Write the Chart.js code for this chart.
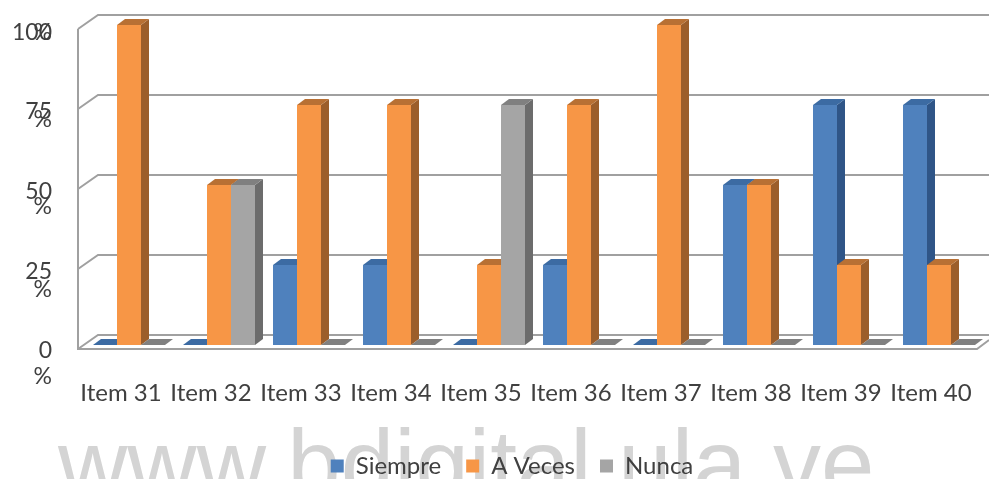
<!DOCTYPE html>
<html lang="en">
<head>
  <meta charset="UTF-8" />
  <title>Items 31-40</title>
  <script src="https://cdn.jsdelivr.net/npm/chart.js"></script>
  <style>
    html, body { margin: 0; padding: 0; background: #fff; }
    #wrap { width: 989px; height: 479px; }
  </style>
</head>
<body>
<div id="wrap"><canvas id="chart" width="989" height="479"></canvas></div>
<script>
const categories = ['Item 31', 'Item 32', 'Item 33', 'Item 34', 'Item 35', 'Item 36', 'Item 37', 'Item 38', 'Item 39', 'Item 40'];
const siempre = [0, 0, 25, 25, 0, 25, 0, 50, 75, 75];
const aVeces = [100, 50, 75, 75, 25, 75, 100, 50, 25, 25];
const nunca = [0, 50, 0, 0, 75, 0, 0, 0, 0, 0];
const yTicks = [0, 25, 50, 75, 100];

const FONT = 'Lato, sans-serif';
const GRID = '#a0a0a0';
// side and top faces for each series, same index as datasets
const faces = [
  { side: '#2f5587', top: '#3c6ba3' },
  { side: '#9c5e2b', top: '#b87034' },
  { side: '#6c6c6c', top: '#808080' }
];

function poly(ctx, pts, color) {
  ctx.fillStyle = color;
  ctx.beginPath();
  pts.forEach((p, i) => i ? ctx.lineTo(p[0], p[1]) : ctx.moveTo(p[0], p[1]));
  ctx.closePath();
  ctx.fill();
}

const watermark = {
  id: 'watermark',
  beforeDraw(chart) {
    const ctx = chart.ctx;
    ctx.save();
    ctx.font = '96px "Liberation Sans"';
    ctx.fillStyle = '#d4d4d4';
    ctx.textBaseline = 'alphabetic';
    ctx.fillText('www.bdigital.ula.ve', 58, 497);
    ctx.restore();
  }
};

// 3D box: walls and floor first, then the series left to right so the
// front of each bar covers the side of the one before it
const box3d = {
  id: 'box3d',
  beforeDatasetsDraw(chart) {
    const ctx = chart.ctx;
    const y = chart.scales.y;
    const a = chart.chartArea;
    const fx = a.left - 6, bx = a.left + 14, y0 = y.getPixelForValue(0);
    ctx.save();
    ctx.strokeStyle = GRID;
    ctx.lineWidth = 2;
    yTicks.forEach(v => {
      const py = y.getPixelForValue(v);
      ctx.beginPath();
      ctx.moveTo(fx, py + 4);
      ctx.lineTo(bx, py - 10);
      ctx.lineTo(chart.width, py - 10);
      ctx.stroke();
    });
    ctx.beginPath();
    ctx.moveTo(fx, y.getPixelForValue(100) + 4);
    ctx.lineTo(fx, y0 + 4);
    ctx.lineTo(a.right - 7, y0 + 4);
    ctx.lineTo(chart.width, y0 - 5);
    ctx.stroke();

    const dx = 8, dy = 6;
    faces.forEach((f, i) => {
      const meta = chart.getDatasetMeta(i);
      meta.data.forEach(bar => {
        const l = bar.x - bar.width / 2, r = bar.x + bar.width / 2;
        poly(ctx, [[r, bar.base], [r + dx, bar.base - dy], [r + dx, bar.y - dy], [r, bar.y]], f.side);
        poly(ctx, [[l, bar.y], [r, bar.y], [r + dx, bar.y - dy], [l + dx, bar.y - dy]], f.top);
      });
      meta.controller.draw();
    });
    ctx.restore();
  },
  beforeDatasetDraw() {
    return false; // already drawn above
  }
};

// the source wraps the % sign under the number with uneven leading
const yLabels = {
  id: 'yLabels',
  afterDraw(chart) {
    const ctx = chart.ctx;
    const y = chart.scales.y;
    const shift = { 0: [6, 32], 25: [7, 25], 50: [7, 22], 75: [7, 15], 100: [8, 8] };
    ctx.save();
    ctx.font = '23px ' + FONT;
    ctx.fillStyle = '#404040';
    ctx.textAlign = 'right';
    ctx.textBaseline = 'middle';
    y.ticks.forEach(t => {
      const py = y.getPixelForValue(t.value);
      ctx.fillText(String(t.value), 52, py + shift[t.value][0]);
      ctx.fillText('%', 52, py + shift[t.value][1]);
    });
    ctx.restore();
  }
};

new Chart(document.getElementById('chart'), {
  type: 'bar',
  data: {
    labels: categories,
    datasets: [
      { label: 'Siempre', data: siempre, backgroundColor: '#4f81bd' },
      { label: 'A Veces', data: aVeces, backgroundColor: '#f79646' },
      { label: 'Nunca', data: nunca, backgroundColor: '#a5a5a5' }
    ]
  },
  options: {
    responsive: false,
    animation: false,
    layout: { padding: { left: 40, right: 5, top: 25, bottom: -9 } },
    datasets: { bar: { categoryPercentage: 0.8, barPercentage: 1 } },
    scales: {
      x: {
        grid: { display: false },
        border: { display: false },
        ticks: { font: { family: FONT, size: 24 }, color: '#404040', padding: 26, labelOffset: -8, maxRotation: 0, autoSkip: false },
        afterFit(s) { s.height = 84; s.paddingLeft = 0; s.paddingRight = 0; }
      },
      y: {
        min: 0, max: 100,
        afterBuildTicks(s) { s.ticks = yTicks.map(v => ({ value: v })); },
        grid: { display: false },
        border: { display: false },
        ticks: { display: false },
        afterFit(s) { s.width = 44; }
      }
    },
    plugins: {
      tooltip: { enabled: false },
      legend: {
        position: 'bottom',
        labels: { font: { family: FONT, size: 24 }, color: '#404040', boxWidth: 13, boxHeight: 13, padding: 25 }
      }
    }
  },
  plugins: [watermark, box3d, yLabels]
});
</script>
</body>
</html>
